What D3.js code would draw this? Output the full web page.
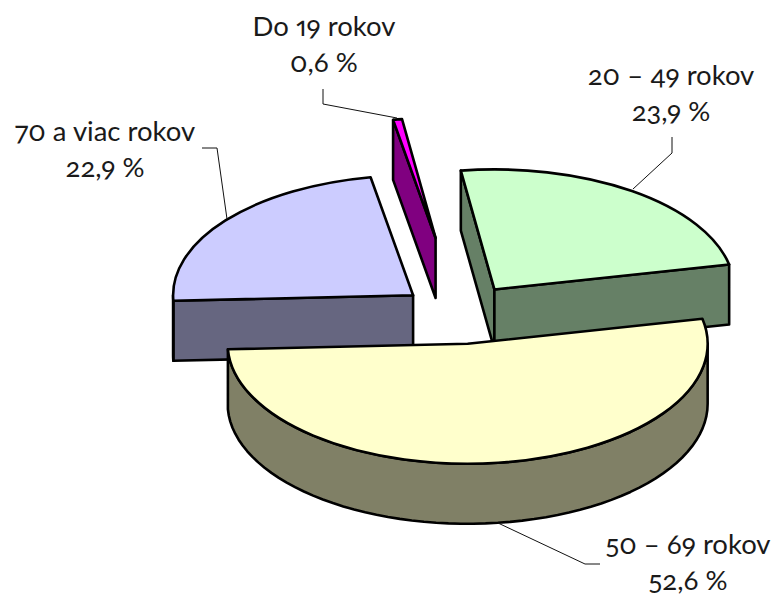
<!DOCTYPE html>
<html><head><meta charset="utf-8">
<script src="https://cdn.jsdelivr.net/npm/d3@7"></script>
<style>
html,body{margin:0;padding:0;background:#fff}
text{font-family:"Lato","Open Sans",sans-serif;font-size:27.5px;fill:#1a1a1a;font-feature-settings:"onum" 1,"pnum" 1;text-anchor:middle}
</style></head><body>
<svg id="c" width="775" height="596"></svg>
<script>
const categories=["Do 19 rokov","20 – 49 rokov","50 – 69 rokov","70 a viac rokov"];
const shares=[0.6,23.9,52.6,22.9];
const shareLabels=["0,6 %","23,9 %","52,6 %","22,9 %"];
const explodes=[154,60,60,60];
const topColors=["#FF00FF","#CCFFCC","#FFFFCC","#CCCCFF"];
const wallColors=["#800080","#668066","#808066","#666680"];
const drawOrder=[0,3,1,2];
const labelPos=[[324,36],[671,85],[688,554],[105,141]];
const leaders=[
 [[323,89],[323,104],[397,118]],
 [[672,137],[672,153],[633,189]],
 [[600,564],[585,564],[498,523]],
 [[202,148],[217,148],[227,219]]];

const cx=460,cy=314,rx=240,ry=120,depth=60;
const svg=d3.select("#c");
const TAU=Math.PI*2;
const start=-10.2*Math.PI/180;
const pie=d3.pie().sort(null).startAngle(start).endAngle(start+TAU);
const arcs=pie(shares);
const xS=d3.scaleLinear().domain([-1,1]).range([-rx,rx]);
const yS=d3.scaleLinear().domain([-1,1]).range([-ry,ry]);
const arcGen=d3.arc().innerRadius(0).outerRadius(rx);
const line=d3.line();

function center(a,i){
  const m=(a.startAngle+a.endAngle)/2;
  const e=explodes[i];
  return [cx+e*Math.sin(m),cy-e*Math.cos(m)/2];
}
function rim(t){return [xS(Math.sin(t)),yS(-Math.cos(t))];}

drawOrder.forEach(i=>{
  const a=arcs[i];
  const [ox,oy]=center(a,i);
  const g=svg.append("g").attr("transform",`translate(${ox},${oy})`);
  const style=s=>s.attr("stroke","#000").attr("stroke-width",2.6).attr("stroke-linejoin","round");
  [[a.startAngle,-1],[a.endAngle,1]].forEach(([t,sign])=>{
    const normal=t+sign*Math.PI/2;
    if(-Math.cos(normal)<=0) return;
    const p=rim(t);
    style(g.append("path")).attr("fill",wallColors[i])
      .attr("d",line([[0,0],p,[p[0],p[1]+depth],[0,depth]])+"Z");
  });
  const lo=Math.max(a.startAngle,Math.PI/2),hi=Math.min(a.endAngle,Math.PI*1.5);
  if(hi>lo){
    const ts=d3.range(0,61).map(k=>lo+(hi-lo)*k/60);
    const upper=ts.map(rim);
    const lower=upper.map(p=>[p[0],p[1]+depth]).reverse();
    style(g.append("path")).attr("fill",wallColors[i]).attr("d",line(upper.concat(lower))+"Z");
  }
  g.append("path")
    .attr("transform",`scale(1,${ry/rx})`)
    .attr("vector-effect","non-scaling-stroke")
    .attr("fill",topColors[i]).attr("stroke","#000").attr("stroke-width",2.6).attr("stroke-linejoin","round")
    .attr("d",arcGen(a));
});

leaders.forEach(l=>svg.append("path").attr("fill","none").attr("stroke","#111").attr("stroke-width",1).attr("d",line(l)));

categories.forEach((c,i)=>{
  svg.append("text").attr("x",labelPos[i][0]).attr("y",labelPos[i][1]).text(c);
  svg.append("text").attr("x",labelPos[i][0]).attr("y",labelPos[i][1]+35.5).text(shareLabels[i]);
});
</script>
</body></html>
